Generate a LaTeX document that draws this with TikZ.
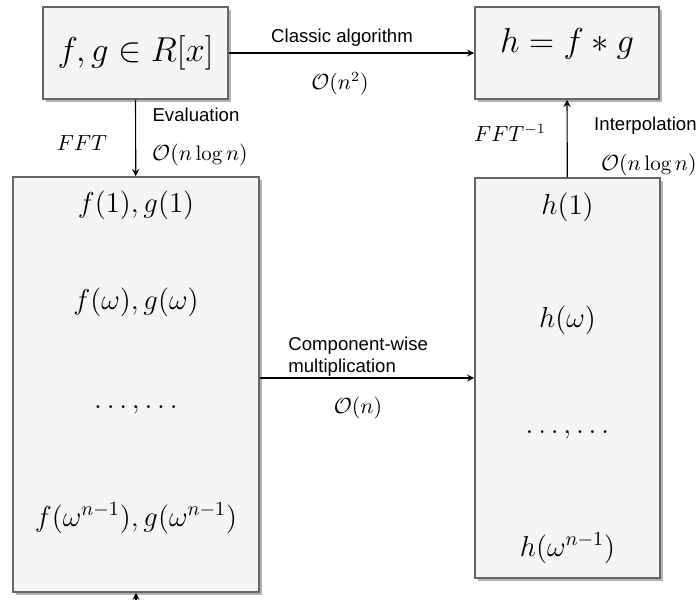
\documentclass[tikz,border=0pt]{standalone}
\usepackage{fontspec}
\newfontfamily\labelfont{Liberation Sans}
\usetikzlibrary{shadows}
\definecolor{boxfill}{HTML}{F5F5F5}
\definecolor{boxline}{HTML}{666666}
\begin{document}
\begin{tikzpicture}[x=0.5pt, y=-0.5pt, auto, >=stealth,
		box/.style={draw=boxline, fill=boxfill, thick, inner sep=0pt,
			drop shadow={shadow xshift=1.5pt, shadow yshift=-1.5pt, fill=gray, opacity=0.6}},
		lbl/.style={font=\labelfont\fontsize{9.3}{11}\selectfont, inner sep=0pt},
		cost/.style={font=\fontsize{10.5}{12}\selectfont, inner sep=0pt},
		big/.style={font=\fontsize{16.5}{19}\selectfont, inner sep=0pt},
		val/.style={font=\fontsize{14}{16}\selectfont, inner sep=0pt}]
				\useasboundingbox (0,0) rectangle (700,599);
				\node[box, minimum width=92.5pt, minimum height=46pt] (poly) at (135.5,53) {};
				\node[box, minimum width=92pt, minimum height=46pt] (prod) at (567,53) {};
				\node[box, minimum width=123pt, minimum height=207.5pt] (evals) at (136,384.5) {};
				\node[box, minimum width=92.5pt, minimum height=200pt] (prods) at (567.5,378) {};
				\node[big] (fg) at (135.5,53) {$f,g\in R[x]$};
				\node[big] (h) at (567,44) {$h=f*g$};
				\node[val] (v1) at (136,205) {$f(1),g(1)$};
				\node[val] (v2) at (136,302) {$f(\omega),g(\omega)$};
				\node[val] (v3) at (136,410) {$\dots,\dots$};
				\node[val] (v4) at (136,518) {$f(\omega^{n-1}),g(\omega^{n-1})$};
				\node[val] (w1) at (567.5,207) {$h(1)$};
				\node[val] (w2) at (567.5,320) {$h(\omega)$};
				\node[val] (w3) at (567.5,435) {$\dots,\dots$};
				\node[val] (w4) at (567.5,548) {$h(\omega^{n-1})$};
				\node[lbl] (classic) at (342,38) {Classic algorithm};
				\node[cost] (classiccost) at (340,84) {$\mathcal{O}(n^2)$};
				\node[lbl] (eval) at (196,115) {Evaluation};
				\node[cost] (fft) at (82,143) {$FFT$};
				\node[cost] (evalcost) at (200,155) {$\mathcal{O}(n\log n)$};
				\node[cost] (ifft) at (510,133) {$FFT^{-1}$};
				\node[lbl, anchor=east] (interp) at (697,126) {Interpolation};
				\node[cost, anchor=east] (interpcost) at (697,165) {$\mathcal{O}(n\log n)$};
				\node[lbl, align=left, anchor=west] (comp) at (288,357) {Component-wise\\multiplication};
				\node[cost] (compcost) at (358,408) {$\mathcal{O}(n)$};
				\coordinate (below) at (136,640);
				\draw[semithick, ->] (poly) -- (prod);
				\draw[semithick, ->] (poly) -- (evals);
				\draw[semithick, ->] (prods) -- (prod);
				\draw[semithick, ->] (evals.east |- prods.west) -- (prods.west);
				\draw[semithick, ->] (below) -- (evals);
			\end{tikzpicture}
\end{document}
